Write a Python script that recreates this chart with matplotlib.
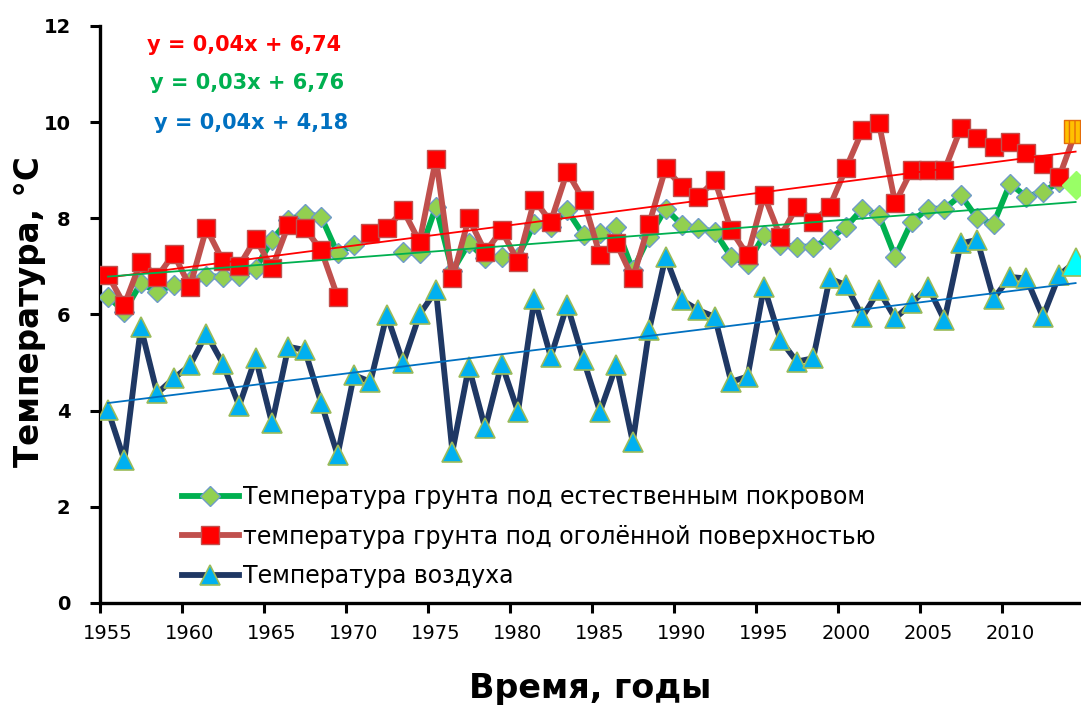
import numpy as np
import matplotlib
matplotlib.use("Agg")
import matplotlib.pyplot as plt

# ---------------- data ----------------
years = list(range(1955, 2015))

natural_cover = [6.37, 6.06, 6.65, 6.47, 6.62, 6.70, 6.80, 6.78, 6.80, 6.95,
                 7.55, 7.96, 8.10, 8.03, 7.27, 7.45, np.nan, np.nan, 7.30, 7.27,
                 8.24, 6.90, 7.48, 7.17, 7.20, 7.20, 7.89, 7.82, 8.17, 7.65,
                 7.69, 7.82, 6.92, 7.62, 8.20, 7.86, 7.79, 7.72, 7.20, 7.06,
                 7.65, 7.44, 7.41, 7.41, 7.58, 7.82, 8.20, 8.07, 7.20, 7.93,
                 8.20, 8.20, 8.48, 8.00, 7.89, 8.72, 8.45, 8.55, 8.75, 8.70]

bare_surface = [6.82, 6.20, 7.10, 6.78, 7.26, 6.58, 7.79, 7.12, 7.01, 7.58,
                6.96, 7.86, 7.79, 7.34, 6.37, np.nan, 7.69, 7.79, 8.17, 7.51,
                9.24, 6.75, 8.00, 7.30, 7.75, 7.10, 8.38, 7.93, 8.97, 8.38,
                7.23, 7.48, 6.75, 7.89, 9.04, 8.66, 8.45, 8.79, 7.75, 7.23,
                8.48, 7.62, 8.24, 7.93, 8.24, 9.04, 9.83, 9.99, 8.32, 9.00,
                9.00, 9.00, 9.87, 9.66, 9.49, 9.58, 9.36, 9.13, 8.86, 9.80]

air_temp = [4.01, 2.97, 5.74, 4.36, 4.67, 4.94, 5.60, 4.98, 4.10, 5.10,
            3.74, 5.33, 5.26, 4.16, 3.08, 4.74, 4.60, 5.99, 4.99, 6.00,
            6.50, 3.15, 4.91, 3.63, 4.98, 3.98, 6.33, 5.12, 6.20, 5.05,
            3.98, 4.95, 3.35, 5.68, 7.20, 6.30, 6.09, 5.95, 4.60, 4.71,
            6.58, 5.47, 5.02, 5.09, 6.75, 6.61, 5.95, 6.50, 5.92, 6.23,
            6.58, 5.88, 7.48, 7.55, 6.33, 6.78, 6.75, 5.95, 6.82, 7.10]

series_labels = ["Температура грунта под естественным покровом",
                 "температура грунта под оголённой поверхностью",
                 "Температура воздуха"]
equations = ["y = 0,04x + 6,74", "y = 0,03x + 6,76", "y = 0,04x + 4,18"]
xtick_years = list(range(1955, 2011, 5))
yticks = [0, 2, 4, 6, 8, 10, 12]
x_label = "Время, годы"
y_label = "Температура, °C"

# ---------------- figure ----------------
plt.rcParams['font.family'] = ['DejaVu Sans']
fig = plt.figure(figsize=(10.81, 7.06), dpi=100)
ax = fig.add_axes([0.0923, 0.1459, 0.9103, 0.8173])

x = np.array(years, dtype=float)
nat = np.array(natural_cover, dtype=float)
bare = np.array(bare_surface, dtype=float)
air = np.array(air_temp, dtype=float)
idx = np.arange(1, len(x) + 1)

body = slice(0, len(x) - 1)

h1, = ax.plot(x, nat, color='#00B050', lw=4.2, marker='D', ms=10,
              mfc='#92D050', mec='#6F9BC8', mew=1.0, markevery=body, zorder=3,
              label=series_labels[0])
h2, = ax.plot(x, bare, color='#C0504D', lw=4.2, marker='s', ms=13,
              mfc='#FF0000', mec='#C0504D', mew=1.0, markevery=body, zorder=4,
              label=series_labels[1])
h3, = ax.plot(x, air, color='#1F3864', lw=4.2, marker='^', ms=15,
              mfc='#00B0F0', mec='#9BBB59', mew=1.2, markevery=body, zorder=5,
              label=series_labels[2])

# highlighted last points
ax.plot(x[-1:], nat[-1:], linestyle='none', marker='D', ms=14,
        mfc='#99FF66', mec='#99FF66', zorder=6)
ax.scatter(x[-1:], bare[-1:], marker='s', s=280, facecolor='#FFC000',
           edgecolor='#E46C0A', hatch='|||', linewidth=1.0, zorder=6)
ax.plot(x[-1:], air[-1:], linestyle='none', marker='^', ms=20,
        mfc='#00FFFF', mec='#9BBB59', mew=1.2, zorder=6)

# linear trend lines
for data, col in ((bare, '#FF0000'), (nat, '#00B050'), (air, '#0070C0')):
    m = ~np.isnan(data)
    k, b = np.polyfit(idx[m], data[m], 1)
    ax.plot(x, k * idx + b, color=col, lw=1.3, zorder=7)

# axes styling
ax.set_xlim(1954.5, 2014.5)
ax.set_ylim(0, 12)
for s in ('top', 'right'):
    ax.spines[s].set_visible(False)
for s in ('left', 'bottom'):
    ax.spines[s].set_linewidth(2.4)
    ax.spines[s].set_color('black')

ax.set_xticks(xtick_years)
ax.set_xticklabels([str(v) for v in xtick_years], fontsize=14)
ax.set_xticks(np.arange(1954.5, 2015, 5), minor=True)
ax.tick_params(axis='x', which='major', length=0, pad=15)
ax.tick_params(axis='x', which='minor', length=7, width=2.2, direction='out')
ax.set_yticks(yticks)
ax.set_yticklabels([str(v) for v in yticks], fontsize=14, fontweight='bold')
ax.tick_params(axis='y', length=7, width=2.2, direction='out', pad=14)

fig.text(30 / 1081, 1 - 312 / 706, y_label, rotation=90, fontsize=23.5,
         fontweight='bold', ha='center', va='center')
fig.text(0.546, 0.025, x_label, fontsize=24, fontweight='bold',
         ha='center', va='center')

# equations
eq_cols = ['#FF0000', '#00B050', '#0070C0']
eq_pos = [(147, 45), (150, 83), (154, 123)]
for t, c, (px, py) in zip(equations, eq_cols, eq_pos):
    fig.text(px / 1081, 1 - py / 706, t, color=c, fontsize=15,
             fontweight='bold', ha='left', va='center')

leg = fig.legend(handles=[h1, h2, h3], loc='upper left',
                 bbox_to_anchor=(182 / 1081, 1 - 485 / 706), frameon=False,
                 fontsize=17, handlelength=2.4, handletextpad=0.2,
                 labelspacing=0.66, borderpad=0, borderaxespad=0)

fig.savefig('out.png', dpi=100)
